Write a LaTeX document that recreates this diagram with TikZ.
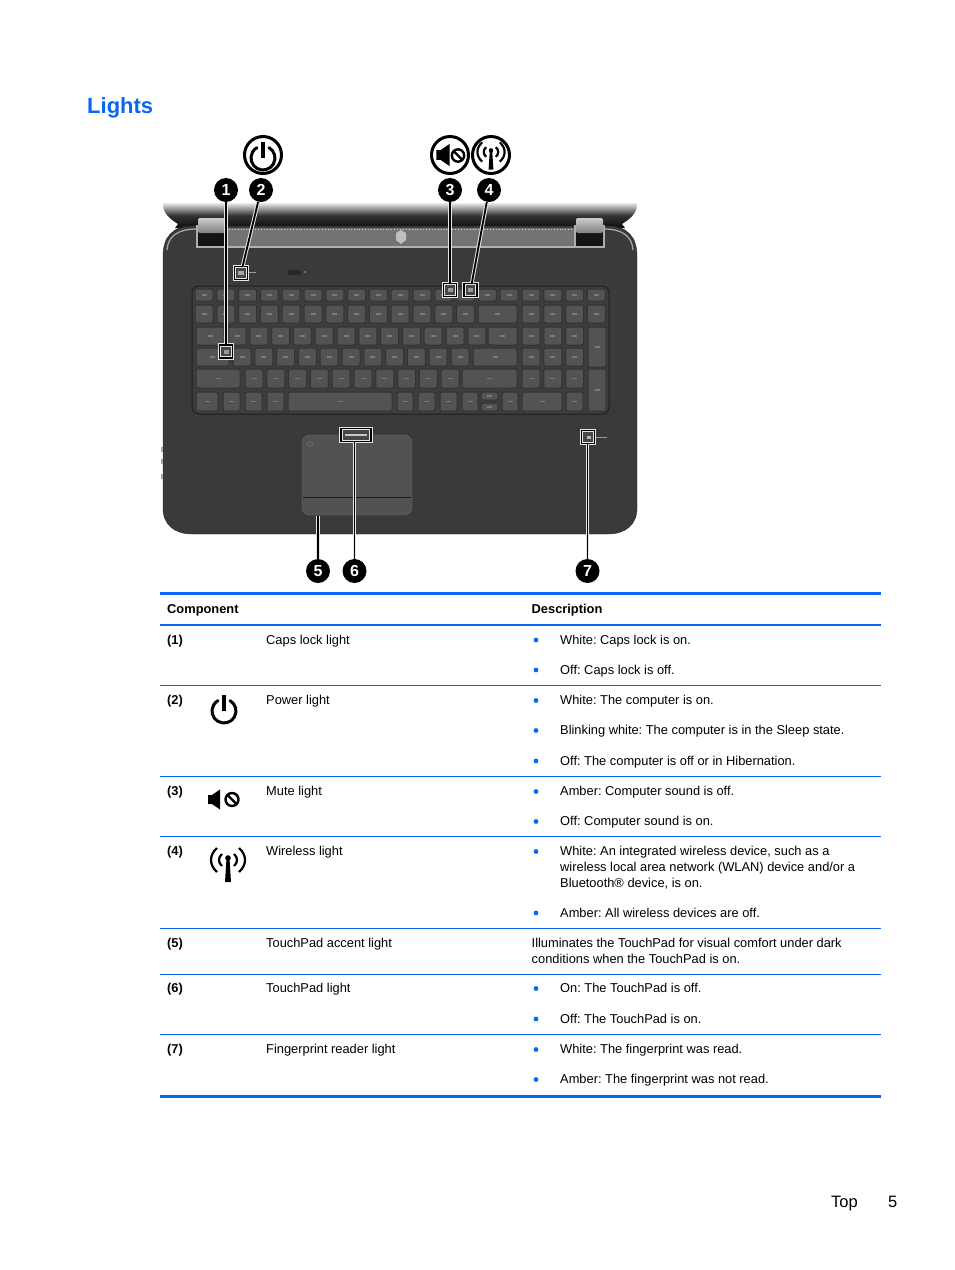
\documentclass[tikz,border=0pt]{standalone}
\usepackage{fontspec}
\setmainfont{Liberation Sans}
\usetikzlibrary{positioning}

\definecolor{hpblue}{HTML}{0A66F5}
\definecolor{bodygray}{HTML}{3A3A3A}
\definecolor{keygray}{HTML}{535353}

\newcommand{\keycap}[4]{%
  \draw[keyface] (#1,#2) rectangle ++(#3,#4);
  \fill[black!52] ({#1+#3/2-2.5},{#2+#4/2-.8}) rectangle ++(5,1.6);
}

\tikzset{
  keyface/.style={fill=keygray, draw=black!80, line width=1pt, rounded corners=2pt},
  badge/.style={circle, fill=black, text=white, inner sep=0pt, minimum size=24pt, font=\bfseries\fontsize{16}{16}\selectfont},
  iconring/.style={circle, draw=black, line width=3pt, fill=white, inner sep=0pt, minimum size=37pt},
  callbox/.style={rectangle, fill=black!72, draw=white!90!black, double=black, double distance=1.2pt, line width=1.1pt, inner sep=0pt, minimum width=13pt, minimum height=13pt},
  callline/.style={draw=white!90!black, double=black, double distance=1.8pt, line width=1pt},
  celltext/.style={anchor=base west, inner sep=0pt, font=\fontsize{12.85}{12.85}\selectfont},
  cellhead/.style={celltext, font=\bfseries\fontsize{12.85}{12.85}\selectfont},
  bulletmark/.style={circle, fill=hpblue, inner sep=0pt, minimum size=4.8pt},
  rowline/.style={draw=hpblue, line width=1pt},
  edgeline/.style={draw=hpblue, line width=3pt},
  pics/powersym/.style={code={
    \draw[line width=3pt, line cap=round] (0,0) ++(300:12) arc[start angle=300, end angle=600, radius=12];
    \draw[line width=3.2pt] (0,-16) -- (0,0);
  }},
  pics/speakersym/.style={code={
    \fill (-12,-4.5) -- (-8,-4.5) -- (0,-10) -- (0,10) -- (-8,4.5) -- (-12,4.5) -- cycle;
  }},
  pics/nosym/.style={code={
    \draw[line width=2.4pt] (0,0) circle[radius=6.5];
    \draw[line width=2.4pt] (-4.5,-4.5) -- (4.5,4.5);
  }},
  pics/wavesym/.style={code={
    \foreach \s in {-1,1} {
      \draw[line width=2.2pt] (\s*11,-12) .. controls (\s*19,-5) and (\s*19,5) .. (\s*11,12);
      \draw[line width=2.2pt] (\s*6,-6) .. controls (\s*10,-3) and (\s*10,3) .. (\s*6,6);
    }
    \fill (0,-2) circle[radius=2.8];
    \fill (-1.6,0) -- (1.6,0) -- (3,22) -- (-3,22) -- cycle;
  }}
}

\begin{document}
\frenchspacing
\begin{tikzpicture}[x=1pt, y=-1pt]
  \useasboundingbox (0,0) rectangle (954,1270);

  \node[anchor=base west, inner sep=0pt, text=hpblue, font=\bfseries\fontsize{22}{22}\selectfont] (title) at (87,113.5) {Lights};

  % lid
  \path[top color=black!8, middle color=black!75, bottom color=black!95, middle color=black!80] (163,203) -- (637,203) -- (637,206) .. controls (636,214) and (630,219) .. (622,224) -- (625,228) -- (175,228) -- (178,224) .. controls (170,219) and (164,214) .. (163,206) -- cycle;

  % laptop body
  \fill[bodygray, draw=black!85] (163,256) .. controls (163,238) and (172,226) .. (192,226) -- (608,226) .. controls (628,226) and (637,238) .. (637,256) -- (637,508) .. controls (637,525) and (625,534) .. (608,534) -- (192,534) .. controls (175,534) and (163,525) .. (163,508) -- cycle;
  \draw[black!32, line width=1.2pt] (167,250) .. controls (168,236) and (178,229) .. (197,229);
  \draw[black!32, line width=1.2pt] (633,250) .. controls (632,236) and (622,229) .. (604,229);

  % speaker strip and hinges
  \fill[black!55] (226,228) rectangle (575,246);
  \draw[black!18, dotted, line width=.9pt] (226,229.5) -- (575,229.5);
  \draw[black!30, line width=1.2pt] (197,247) -- (604,247);
  \foreach \hx in {197,575} {
    \fill[black!92] (\hx,222) rectangle ++(29,25);
    \draw[black!32, line width=1.2pt] (\hx,225) -- (\hx,247) -- ++(29,0) -- ++(0,-22);
    \shade[top color=black!20, bottom color=black!50, rounded corners=2pt] (\hx+1,218) rectangle ++(27,15);
  }
  \fill[black!25] (396,233) -- (401,230) -- (406,233) -- (406,240) -- (401,244) -- (396,240) -- cycle;

  % power light, pill and side notches
  \fill[black!85, rounded corners=2pt] (288,270) rectangle (301,275);
  \fill[black!50] (305,272) circle[radius=1.2];
  \draw[black!40, line width=.8pt] (249,272.5) -- (256,272.5);
  \foreach \ny in {447,459,474} {
    \fill[black!35] (161,\ny) rectangle ++(2,5);
  }

  % keyboard
  \fill[black!76, draw=black!88, line width=1pt, rounded corners=7pt] (192,286) rectangle (609,414);
  \foreach \n in {0,...,18} {
    \keycap{195+\n*21.8}{289}{18}{12}
  }
  \foreach \n in {0,...,12,15,16,17,18} {
    \keycap{195+\n*21.8}{305}{18}{18}
  }
  \foreach \n in {0,...,11} {
    \keycap{228+\n*21.8}{327}{18}{18}
  }
  \foreach \n in {0,...,10} {
    \keycap{233+\n*21.8}{348}{18}{18}
  }
  \foreach \n in {0,...,9} {
    \keycap{245+\n*21.8}{369}{18}{19}
  }
  \foreach \ky/\kh in {327/18,348/18,369/19} {
    \foreach \n in {15,16,17} {
      \keycap{195+\n*21.8}{\ky}{18}{\kh}
    }
  }
  \foreach \xa/\ya/\kw/\kh in {478/305/39/18, 196/327/28/18, 488/327/29/18, 196/348/33/18, 473/348/44/18, 196/369/44/19, 462/369/55/19, 196/392/22/19, 223/392/17/19, 245/392/17/19, 267/392/17/19, 288/392/104/19, 397/392/16/19, 418/392/17/19, 440/392/17/19, 462/392/16/19, 481/392/17/8, 481/403/17/8, 502/392/16/19, 522/392/40/19, 566/392/17/19, 588/327/18/40, 588/369/18/42} {
    \keycap{\xa}{\ya}{\kw}{\kh}
  }

  % touchpad
  \fill[black!68, draw=black!58, rounded corners=8pt] (302,435) rectangle (412,515);
  \draw[black!90, line width=1pt] (303,497) -- (411,497);
  \draw[black!50] (310,444) circle[radius=2.5];
  \draw[black!40, line width=.8pt] (596,437) -- (607,437);

  % call-outs
  \node[callbox] (box1) at (226,351.5) {};
  \node[callbox] (box2) at (241,273) {};
  \node[callbox] (box3) at (450,290) {};
  \node[callbox] (box4) at (470.5,290) {};
  \node[callbox, minimum width=30pt] (box6) at (356,435) {};
  \node[callbox] (box7) at (588,437) {};
  \coordinate (tip5) at (318,516);

  % lit parts inside the call-outs
  \fill[black!35] (238,271) rectangle ++(6,4);
  \fill[black!40] (223.5,349.5) rectangle ++(5,4);
  \fill[black!40] (447.5,288) rectangle ++(5,4);
  \fill[black!40] (468,288) rectangle ++(5,4);
  \fill[black!22] (345,434) rectangle ++(22,2);
  \fill[black!30] (586.5,435.5) rectangle ++(4,3);

  \node[badge] (badge1) at (226,190) {1};
  \node[badge] (badge2) at (261,190) {2};
  \node[badge] (badge3) at (450,190) {3};
  \node[badge] (badge4) at (489,190) {4};
  \node[badge] (badge5) at (318,571) {5};
  \node[badge] (badge6) at (354.5,571) {6};
  \node[badge] (badge7) at (587.5,571) {7};

  \path[callline] (badge1) -- (box1);
  \path[callline] (badge2) -- (box2);
  \path[callline] (badge3) -- (box3);
  \path[callline] (badge4) -- (box4);
  \path[callline] (badge5) -- (tip5);
  \path[callline] (badge6) -- (badge6 |- box6.south);
  \path[callline] (badge7) -- (badge7 |- box7.south);

  \node[iconring] (ringpower) at (263,155) {};
  \node[iconring] (ringmute) at (450,155) {};
  \node[iconring] (ringwave) at (491,155) {};
  \pic at (263,158) {powersym};
  \pic[scale=1.1] at (449.5,155) {speakersym};
  \pic[scale=.95] at (458,155.5) {nosym};
  \pic[scale=.8] at (491,152) {wavesym};

  % table rules
  \draw[edgeline] (160,593.5) -- (881,593.5);
  \draw[rowline, line width=1.7pt] (160,625) -- (881,625);
  \foreach \ry in {685.5,776.5,836.5,928.5,974.5,1034.5} {
    \draw[rowline] (160,\ry) -- (881,\ry);
  }
  \draw[edgeline] (160,1096) -- (881,1096);

  \node[cellhead] (headpart) at (167,613) {Component};
  \node[cellhead] (headdesc) at (531.5,613) {Description};

  % component column
  \foreach \n/\ty/\what in {1/644/Caps lock light, 2/704.5/Power light, 3/795.5/Mute light, 4/855.5/Wireless light, 5/947/TouchPad accent light, 6/992.5/TouchPad light, 7/1053.5/Fingerprint reader light} {
    \node[cellhead] (num\n) at (167,\ty) {(\n)};
    \node[celltext] (part\n) at (266,\ty) {\what};
  }

  % bulleted descriptions
  \foreach \ty/\what [count=\i] in {644/{White: Caps lock is on.}, 674/{Off: Caps lock is off.}, 704.5/{White: The computer is on.}, 734.5/{Blinking white: The computer is in the Sleep state.}, 765/{Off: The computer is off or in Hibernation.}, 795.5/{Amber: Computer sound is off.}, 825.5/{Off: Computer sound is on.}, 855.5/{White: An integrated wireless device, such as a}, 917/{Amber: All wireless devices are off.}, 992.5/{On: The TouchPad is off.}, 1023/{Off: The TouchPad is on.}, 1053.5/{White: The fingerprint was read.}, 1083.5/{Amber: The fingerprint was not read.}} {
    \node[bulletmark] (dot\i) at (536,\ty-4) {};
    \node[celltext] (line\i) at (560,\ty) {\what};
  }
  \node[celltext] (wrapa) at (560,871.5) {wireless local area network (WLAN) device and/or a};
  \node[celltext] (wrapb) at (560,887.5) {Bluetooth® device, is on.};
  \node[celltext] (plaina) at (531.5,947) {Illuminates the TouchPad for visual comfort under dark};
  \node[celltext] (plainb) at (531.5,963) {conditions when the TouchPad is on.};

  % table icons
  \pic at (224,711) {powersym};
  \pic at (220,799.5) {speakersym};
  \pic at (232,799.5) {nosym};
  \pic at (228,860) {wavesym};

  % footer
  \node[anchor=base west, inner sep=0pt, font=\fontsize{16.5}{16.5}\selectfont] (foottop) at (831,1207.5) {Top};
  \node[anchor=base west, inner sep=0pt, font=\fontsize{16.5}{16.5}\selectfont] (footnum) at (888,1207.5) {5};
\end{tikzpicture}
\end{document}
